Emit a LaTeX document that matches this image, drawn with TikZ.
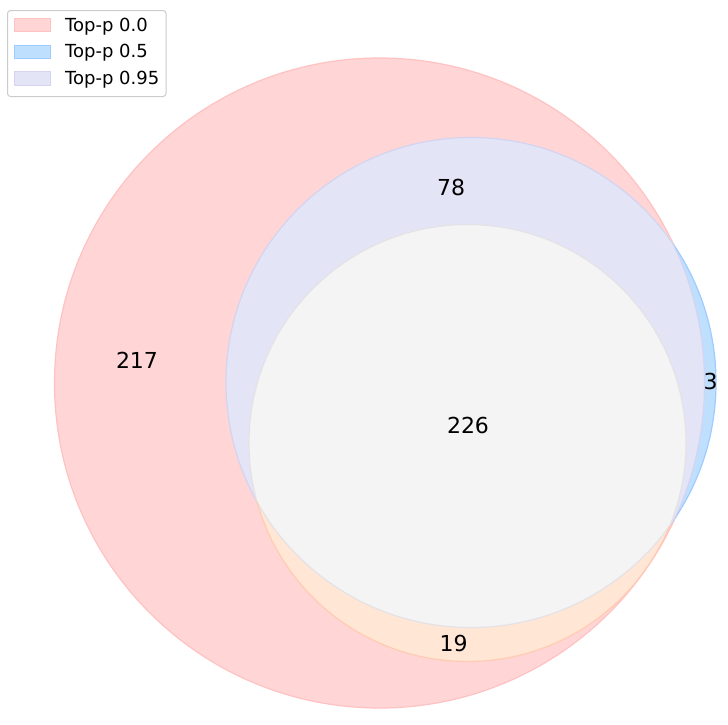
\documentclass[tikz,border=0pt]{standalone}
\usepackage{fontspec}
\setmainfont{DejaVu Sans}
\definecolor{fA}{HTML}{FFD5D5}
\definecolor{eA}{HTML}{FFC2C2}
\definecolor{fB}{HTML}{BFDFFF}
\definecolor{eB}{HTML}{9FCCFF}
\definecolor{fAB}{HTML}{E4E4F7}
\definecolor{eAB}{HTML}{D4D4F0}
\definecolor{fAC}{HTML}{FFE6D5}
\definecolor{eAC}{HTML}{FFCCB2}
\definecolor{fABC}{HTML}{F4F4F4}
\definecolor{eABC}{HTML}{E4E2E6}
\definecolor{legedge}{HTML}{CCCCCC}
\tikzset{
  num/.style={font=\fontsize{22}{26}\selectfont, text=black, inner sep=0pt},
  legtext/.style={font=\fontsize{18}{21}\selectfont, text=black, anchor=base west, inner sep=0pt},
  edge/.style={line width=1.2}
}

\begin{document}

\begin{tikzpicture}[x=1pt,y=-1pt]
\useasboundingbox (0,0) rectangle (728,724);
\coordinate (cA) at (379.5,383);
\coordinate (cB) at (471,382.5);
\coordinate (cC) at (467.5,443);
% regions
\fill[fA] (cA) circle[radius=325];
\fill[fB] (cB) circle[radius=245];
\begin{scope}
  \clip (cA) circle[radius=325];
  \fill[fAB] (cB) circle[radius=245];
  \fill[fAC] (cC) circle[radius=218.5];
  \clip (cB) circle[radius=245];
  \fill[fABC] (cC) circle[radius=218.5];
\end{scope}
% edges
\begin{scope}[even odd rule]
  \clip (-10,-10) rectangle (740,740) (cB) circle[radius=245];
  \draw[edge, eA] (cA) circle[radius=325];
\end{scope}
\begin{scope}
  \clip (cB) circle[radius=245];
  \draw[edge, eAB] (cA) circle[radius=325];
\end{scope}
\begin{scope}[even odd rule]
  \clip (-10,-10) rectangle (740,740) (cA) circle[radius=325];
  \draw[edge, eB] (cB) circle[radius=245];
\end{scope}
\begin{scope}
  \clip (cA) circle[radius=325];
  \begin{scope}[even odd rule]
    \clip (-10,-10) rectangle (740,740) (cC) circle[radius=218.5];
    \draw[edge, eAB] (cB) circle[radius=245];
  \end{scope}
  \begin{scope}
    \clip (cC) circle[radius=218.5];
    \draw[edge, eABC] (cB) circle[radius=245];
  \end{scope}
  \begin{scope}
    \clip (cB) circle[radius=245];
    \draw[edge, eABC] (cC) circle[radius=218.5];
  \end{scope}
  \begin{scope}[even odd rule]
    \clip (-10,-10) rectangle (740,740) (cB) circle[radius=245];
    \draw[edge, eAC] (cC) circle[radius=218.5];
  \end{scope}
\end{scope}
% numbers
\node[num] (n217) at (137,360) {217};
\node[num] (n78) at (451,187.5) {78};
\node[num] (n3) at (710.5,381.5) {3};
\node[num] (n226) at (468,425) {226};
\node[num] (n19) at (453.7,643.5) {19};
% legend
\draw[legedge, fill=white, fill opacity=0.8, rounded corners=3, line width=1] (7.5,10.5) rectangle (166,96.5);
\draw[fill=fA, draw=eA, line width=1] (14,18.3) rectangle (50.7,31.7);
\draw[fill=fB, draw=eB, line width=1] (14,45) rectangle (50.7,58.3);
\draw[fill=fAB, draw=eAB, line width=1] (14,71.7) rectangle (50.7,85.3);
\node[legtext] (l1) at (65,31) {Top-p 0.0};
\node[legtext] (l2) at (65,57.7) {Top-p 0.5};
\node[legtext] (l3) at (65,84.3) {Top-p 0.95};
\end{tikzpicture}

\end{document}
